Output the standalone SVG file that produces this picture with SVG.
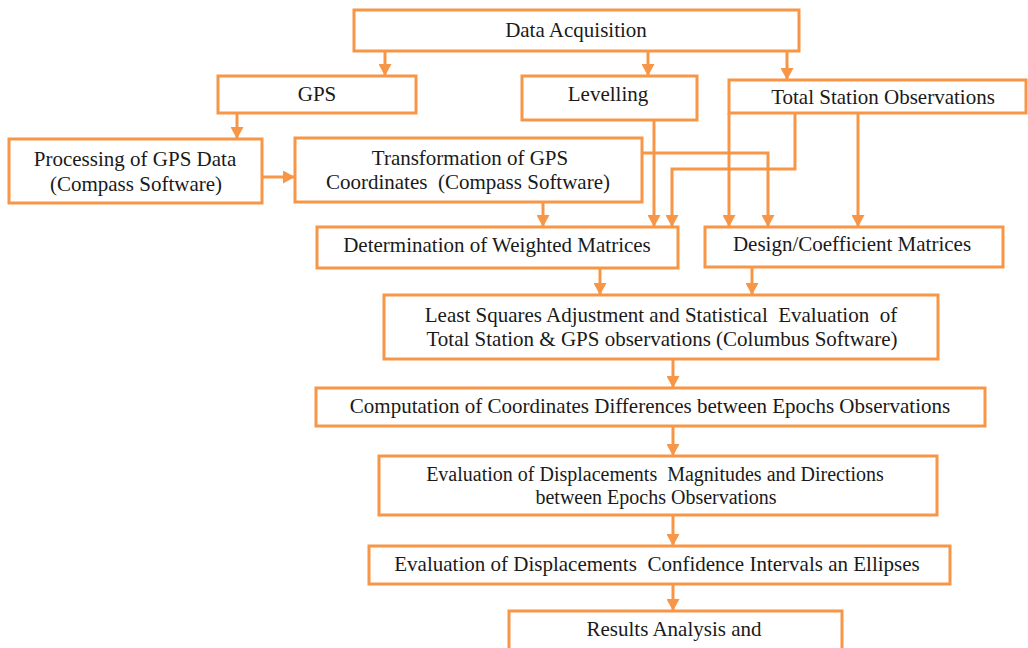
<svg xmlns="http://www.w3.org/2000/svg" width="1028" height="648" viewBox="0 0 1028 648">
<style>
.box{fill:#fff;stroke:#F79646;stroke-width:3}
.t{font-family:"Liberation Serif","Times New Roman",serif;font-size:21px;fill:#1a1a1a;text-anchor:middle;white-space:pre}
.s{font-size:20px}
.c{fill:none;stroke:#F79646;stroke-width:3;marker-end:url(#ah)}
</style>
<defs>
<marker id="ah" markerUnits="userSpaceOnUse" markerWidth="13" markerHeight="13" refX="12" refY="6.5" orient="auto" viewBox="0 0 13 13">
<path d="M0,0 L12,6.5 L0,13 z" fill="#F79646"/>
</marker>
</defs>
<rect width="1028" height="648" fill="#fff"/>
<g id="connectors">
<path class="c" d="M385,51 V76"/>
<path class="c" d="M648,51 V76"/>
<path class="c" d="M787,51 V80"/>
<path class="c" d="M237,113 V139"/>
<path class="c" d="M262,177 H295"/>
<path class="c" d="M543,202 V227"/>
<path class="c" d="M654,120 V227"/>
<path class="c" d="M795,113 V169 H672 V227"/>
<path class="c" d="M642,153 H768 V227"/>
<path class="c" d="M729,113 V227"/>
<path class="c" d="M858,113 V227"/>
<path class="c" d="M600,268 V295"/>
<path class="c" d="M752,267 V295"/>
<path class="c" d="M673,359 V388"/>
<path class="c" d="M673,426 V456"/>
<path class="c" d="M673,515 V546"/>
<path class="c" d="M673,584 V611"/>
</g>
<g id="data-acquisition"><rect class="box" x="354" y="10" width="445" height="41"/><text class="t" x="576" y="37">Data Acquisition</text></g>
<g id="gps"><rect class="box" x="218" y="76" width="198" height="37"/><text class="t" x="317" y="101">GPS</text></g>
<g id="levelling"><rect class="box" x="522" y="76" width="175" height="44"/><text class="t" x="608" y="101">Levelling</text></g>
<g id="total-station"><rect class="box" x="729" y="80" width="297" height="33"/><text class="t" x="883" y="104">Total Station Observations</text></g>
<g id="processing"><rect class="box" x="9" y="139" width="253" height="64"/><text class="t" x="135" y="166">Processing of GPS Data</text><text class="t" x="136" y="191">(Compass Software)</text></g>
<g id="transformation"><rect class="box" x="295" y="138" width="347" height="64"/><text class="t" x="470" y="165">Transformation of GPS</text><text class="t" x="468" y="189">Coordinates  (Compass Software)</text></g>
<g id="weighted"><rect class="box" x="317" y="227" width="361" height="41"/><text class="t" x="497" y="252">Determination of Weighted Matrices</text></g>
<g id="design"><rect class="box" x="705" y="227" width="298" height="40"/><text class="t" x="852" y="251">Design/Coefficient Matrices</text></g>
<g id="least-squares"><rect class="box" x="384" y="295" width="554" height="64"/><text class="t" x="661" y="322">Least Squares Adjustment and Statistical  Evaluation  of</text><text class="t" x="662" y="346">Total Station &amp; GPS observations (Columbus Software)</text></g>
<g id="computation"><rect class="box" x="316" y="388" width="669" height="38"/><text class="t" x="650" y="413">Computation of Coordinates Differences between Epochs Observations</text></g>
<g id="displacements"><rect class="box" x="379" y="456" width="558" height="59"/><text class="t s" x="655" y="481">Evaluation of Displacements  Magnitudes and Directions</text><text class="t s" x="656" y="504">between Epochs Observations</text></g>
<g id="confidence"><rect class="box" x="369" y="546" width="581" height="38"/><text class="t" x="657" y="571">Evaluation of Displacements  Confidence Intervals an Ellipses</text></g>
<g id="results"><rect class="box" x="509" y="611" width="333" height="50"/><text class="t" x="674" y="636">Results Analysis and</text></g>
</svg>
